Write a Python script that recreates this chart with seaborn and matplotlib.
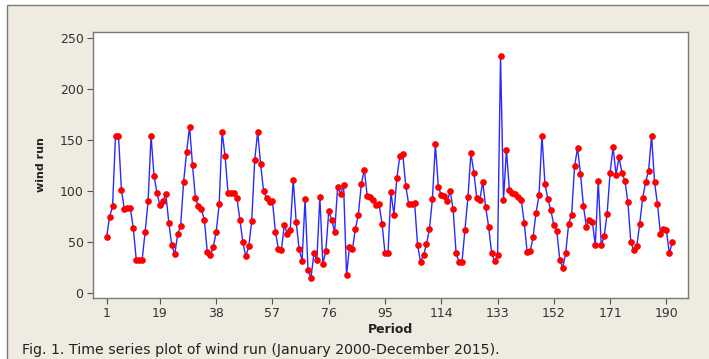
import matplotlib
matplotlib.use("Agg")
import matplotlib.pyplot as plt
import seaborn as sns
import numpy as np
import pandas as pd
from matplotlib.patches import Rectangle

wind_run = [
    55, 75, 85, 154, 154, 101, 82, 83, 83, 64, 33, 33, 33, 60, 90, 154,
    115, 98, 86, 90, 97, 69, 47, 38, 58, 66, 109, 138, 163, 125, 93, 85,
    82, 72, 40, 37, 45, 60, 87, 158, 134, 98, 98, 98, 93, 72, 50, 36,
    46, 71, 130, 158, 126, 100, 93, 89, 90, 60, 43, 42, 67, 58, 62, 111,
    70, 43, 32, 92, 23, 15, 39, 33, 94, 29, 41, 80, 72, 60, 104, 97,
    106, 18, 45, 43, 63, 77, 107, 121, 95, 94, 91, 86, 87, 68, 39, 39,
    99, 77, 113, 134, 136, 105, 87, 87, 88, 47, 31, 37, 48, 63, 92, 146,
    104, 96, 95, 90, 100, 82, 39, 31, 31, 62, 94, 137, 118, 93, 91, 109,
    84, 65, 39, 32, 37, 232, 91, 140, 101, 98, 97, 94, 91, 69, 40, 41,
    55, 79, 96, 154, 107, 92, 81, 67, 61, 33, 25, 39, 68, 77, 124, 142,
    117, 85, 65, 72, 70, 47, 110, 47, 56, 78, 118, 143, 116, 133, 118, 110,
    89, 50, 42, 46, 68, 93, 109, 120, 154, 109, 87, 58, 63, 62, 39, 50,
]
period = list(range(1, len(wind_run) + 1))
x_ticks = [1, 19, 38, 57, 76, 95, 114, 133, 152, 171, 190]
y_ticks = [0, 50, 100, 150, 200, 250]
caption = "Fig. 1. Time series plot of wind run (January 2000-December 2015)."

df = pd.DataFrame({"Period": period, "wind run": wind_run})

sns.set_style("white")
plt.rcParams["font.family"] = ["DejaVu Sans"]

W, H = 709, 359
fig = plt.figure(figsize=(W / 100, H / 100), dpi=100, facecolor="white")

bg = "#EFEBE1"
rect = Rectangle((7.5 / W, -0.1), 1.2, 1 - 5.5 / H + 0.1,
                 transform=fig.transFigure, facecolor=bg,
                 edgecolor="#7a7a7a", linewidth=1.0, zorder=-10)
fig.patches.append(rect)

ax = fig.add_axes([93.3 / W, 1 - 297.7 / H, (687.7 - 93.3) / W, (297.7 - 31.7) / H])
ax.set_zorder(1)
ax.set_facecolor("white")

sns.lineplot(data=df, x="Period", y="wind run", ax=ax, color="#2a2aff",
             linewidth=1.0, marker="o", markersize=4.0,
             markerfacecolor="red", markeredgecolor="red")

ax.set_xlim(-3.5, 197.2)
ax.set_ylim(-4.3, 255.8)
ax.set_xticks(x_ticks)
ax.set_yticks(y_ticks)
ax.tick_params(axis="both", direction="out", length=4, width=0.8,
               color="#555555", labelsize=9, labelcolor="#333333", pad=3)
ax.tick_params(axis="both", which="both", bottom=True, left=True)
for s in ax.spines.values():
    s.set_color("#7a7a7a")
    s.set_linewidth(1.0)

ax.set_xlabel("Period", fontsize=9, fontweight="bold", color="#222222", labelpad=2)
ax.set_ylabel("wind run", fontsize=8, fontweight="bold", color="#222222", labelpad=10)

fig.text(22 / W, 1 - 350 / H, caption, fontsize=10.2, color="#222222",
         ha="left", va="center")

fig.savefig("out.png", dpi=100, facecolor=fig.get_facecolor())
